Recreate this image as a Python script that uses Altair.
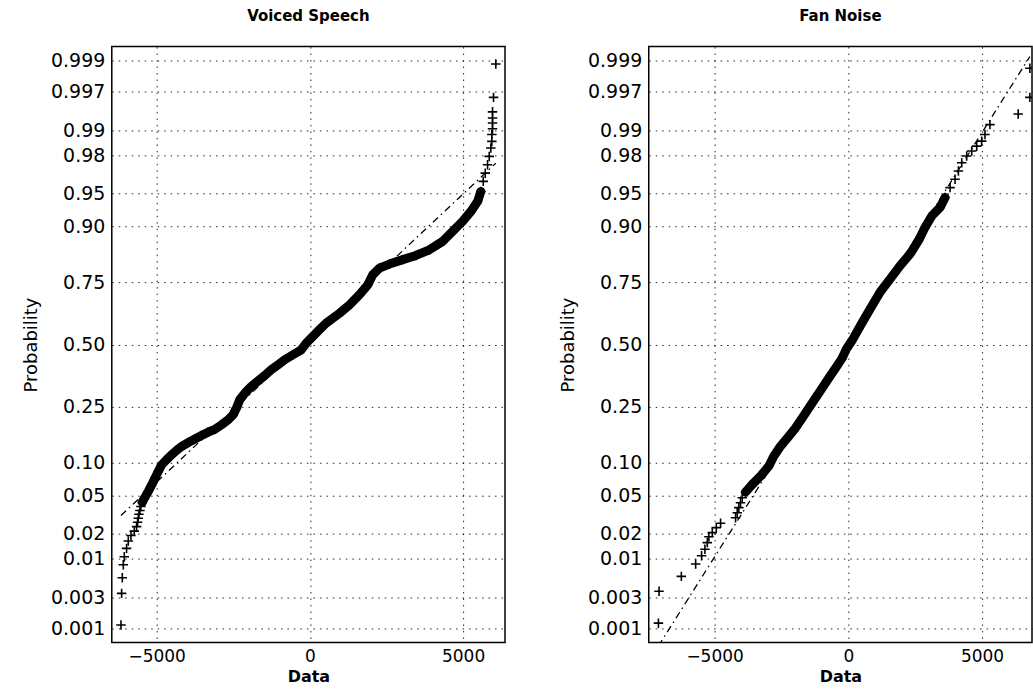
import altair as alt
import pandas as pd
from statistics import NormalDist

ND = NormalDist()

# ---------------- axis ticks ----------------
prob_ticks = [0.001, 0.003, 0.01, 0.02, 0.05, 0.10, 0.25, 0.50, 0.75, 0.90, 0.95, 0.98, 0.99, 0.997, 0.999]
prob_labels = ["0.001", "0.003", "0.01", "0.02", "0.05", "0.10", "0.25", "0.50", "0.75", "0.90",
               "0.95", "0.98", "0.99", "0.997", "0.999"]
x_ticks = [-5000, 0, 5000]

# ---------------- Voiced Speech ----------------
speech_lo_x = [-6166, -6145, -6123, -6090, -6058, -5983, -5928, -5840, -5732, -5657, -5624, -5602, -5580, -5547, -5515]
speech_lo_p = [0.00114, 0.0034, 0.0056, 0.0083, 0.0105, 0.0133, 0.0163, 0.0189, 0.0212, 0.0238, 0.0266, 0.0294, 0.0324, 0.0355, 0.039]
speech_band_x = [-5472, -5407, -5276, -5168, -5058, -4950, -4843, -4680, -4517, -4355, -4192, -3974, -3755, -3540,
                 -3322, -3104, -2889, -2671, -2508, -2400, -2290, -2127, -1912, -1694, -1475, -1260, -1042, -824,
                 -554, -283, -120, 250, 531, 967, 1293, 1619, 1889, 2052, 2270, 2596, 3029, 3462, 3899, 4332,
                 4657, 4983, 5254, 5472, 5580]
speech_band_p = [0.043, 0.047, 0.055, 0.063, 0.073, 0.0835, 0.095, 0.105, 0.115, 0.1245, 0.1335, 0.143, 0.152, 0.161,
                 0.170, 0.178, 0.191, 0.206, 0.222, 0.244, 0.274, 0.298, 0.324, 0.346, 0.368, 0.392, 0.4125, 0.434,
                 0.4555, 0.477, 0.5056, 0.556, 0.592, 0.633, 0.667, 0.706, 0.742, 0.776, 0.797, 0.809, 0.822, 0.8335,
                 0.8485, 0.869, 0.8906, 0.9096, 0.926, 0.940, 0.952]
speech_hi_x = [5658, 5723, 5798, 5853, 5905, 5938, 5938, 5960, 5960, 5960, 5960, 5993, 6068]
speech_hi_p = [0.962, 0.9688, 0.9747, 0.9796, 0.9837, 0.9864, 0.9888, 0.9905, 0.992, 0.9931, 0.9943, 0.9964, 0.99886]
speech_fit_x = [-6166, 6068]
speech_fit_p = [0.0314, 0.9757]

# ---------------- Fan Noise ----------------
fan_lo_x = [-7100, -7077, -6243, -5708, -5485, -5361, -5272, -5212, -5086, -4936, -4776, -4216, -4153, -4093, -4030, -3966]
fan_lo_p = [0.00122, 0.00364, 0.00584, 0.0085, 0.0108, 0.013, 0.0156, 0.0183, 0.0204, 0.0232, 0.0259, 0.0298, 0.0337, 0.038, 0.0426, 0.0478]
fan_band_x = [-3843, -3593, -3283, -2973, -2787, -2537, -2227, -1977, -1728, -1481, -1231, -981, -735, -485, -235,
              -60, 150, 500, 860, 1194, 1567, 1940, 2313, 2623, 2873, 3123, 3433, 3619]
fan_band_p = [0.0542, 0.0639, 0.0761, 0.0928, 0.112, 0.134, 0.159, 0.1817, 0.2116, 0.244, 0.2795, 0.317, 0.3565,
              0.3975, 0.44, 0.483, 0.519, 0.59, 0.658, 0.7157, 0.7624, 0.8046, 0.8377, 0.8705, 0.8987, 0.919, 0.932, 0.945]
fan_hi_x = [3806, 3992, 4117, 4242, 4428, 4615, 4802, 4988, 5111, 5298, 6354, 6790, 6790]
fan_hi_p = [0.956, 0.9638, 0.9704, 0.976, 0.9798, 0.9823, 0.9845, 0.9865, 0.9888, 0.9916, 0.9939, 0.9964, 0.99867]
fan_fit_x = [-7100, 6790]
fan_fit_p = [0.00052, 0.99913]

Y_DOMAIN = [-3.24, 3.24]
PLUS = "M-1,0L1,0M0,-1L0,1"


def zq(p):
    return ND.inv_cdf(p)


label_expr = "''"
for t, lab in reversed(list(zip(prob_ticks, prob_labels))):
    label_expr = f"abs(datum.value - ({zq(t):.5f})) < 0.001 ? '{lab}' : ({label_expr})"


def frame(xs, ps):
    return pd.DataFrame({"x": xs, "p": ps, "z": [zq(p) for p in ps], "i": list(range(len(xs)))})


def panel(title, lo, band, hi, fit, xdom, width):
    pts = frame(lo[0] + band[0] + hi[0], lo[1] + band[1] + hi[1])
    band_df = frame(*band)
    fit_df = frame(*fit)
    xenc = alt.X("x:Q", scale=alt.Scale(domain=xdom, nice=False, zero=False),
                 axis=alt.Axis(values=x_ticks, format="d", title="Data"))
    yenc = alt.Y("z:Q", scale=alt.Scale(domain=Y_DOMAIN, nice=False, zero=False),
                 axis=alt.Axis(values=[zq(t) for t in prob_ticks], labelExpr=label_expr, title="Probability"))
    fit_layer = alt.Chart(fit_df).mark_line(color="black", strokeDash=[7, 4, 1.5, 4], strokeWidth=1.3,
                                            clip=True).encode(x=xenc, y=yenc, order="i:Q")
    band_layer = alt.Chart(band_df).mark_line(color="black", strokeWidth=9, clip=True,
                                              strokeJoin="round", strokeCap="round").encode(x=xenc, y=yenc, order="i:Q")
    pts_layer = alt.Chart(pts).mark_point(shape=PLUS, filled=False, stroke="black", strokeWidth=1.6,
                                          size=90, opacity=1, clip=True).encode(x=xenc, y=yenc)
    return alt.layer(fit_layer, band_layer, pts_layer).properties(
        width=width, height=597, title=alt.TitleParams(title))


left = panel("Voiced Speech", (speech_lo_x, speech_lo_p), (speech_band_x, speech_band_p),
             (speech_hi_x, speech_hi_p), (speech_fit_x, speech_fit_p), [-6466, 6368], 394)
right = panel("Fan Noise", (fan_lo_x, fan_lo_p), (fan_band_x, fan_band_p),
              (fan_hi_x, fan_hi_p), (fan_fit_x, fan_fit_p), [-7462, 6870], 384)

chart = alt.hconcat(left, right, spacing=52).properties(
    background="white", padding={"left": 21, "top": 7, "right": 0, "bottom": 0}
).configure_axis(
    grid=True, gridColor="black", gridDash=[1.5, 5], gridOpacity=0.85, gridWidth=1,
    domain=False, ticks=False, tickSize=0,
    labelFont="DejaVu Sans", labelFontSize=19, labelColor="black", labelPadding=7,
    titleFont="DejaVu Sans", titleColor="black"
).configure_axisX(
    labelFontSize=17, titleFontSize=16, titleFontWeight="bold", titlePadding=4, labelPadding=6
).configure_axisY(
    titleFontSize=18, titleFontWeight="normal", titlePadding=10
).configure_view(
    stroke="black", strokeWidth=1.5
).configure_title(
    font="DejaVu Sans", fontSize=15, fontWeight="bold", color="black", offset=23
)

chart.save("out.html", embed_options={"renderer": "svg", "actions": False})
